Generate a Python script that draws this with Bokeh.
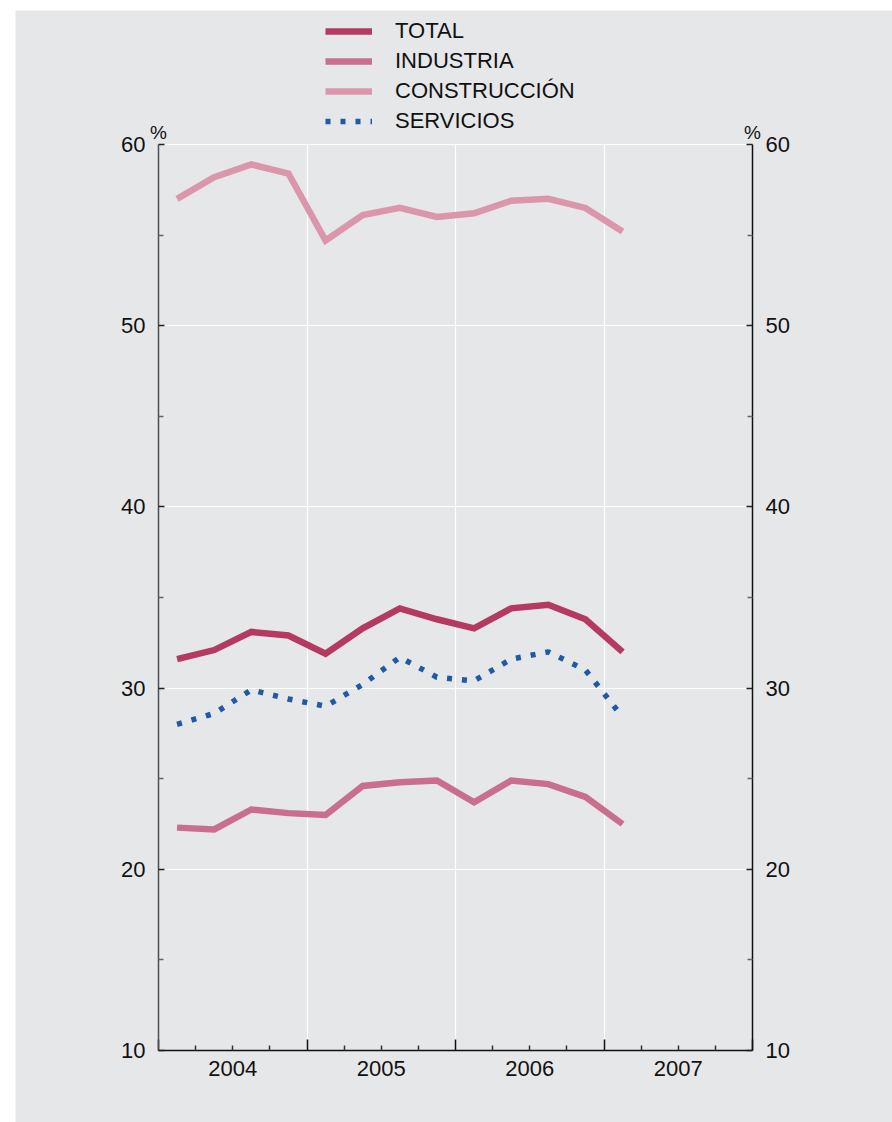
from bokeh.plotting import figure
from bokeh.models import (FixedTicker, LinearAxis, Range1d, Legend, LegendItem,
                          Label, CustomJSTickFormatter, Grid, Spacer)
from bokeh.layouts import column, row
from bokeh.embed import file_html
from bokeh.resources import INLINE

# ---------------- data ----------------
quarters = ["2004 I", "2004 II", "2004 III", "2004 IV",
            "2005 I", "2005 II", "2005 III", "2005 IV",
            "2006 I", "2006 II", "2006 III", "2006 IV",
            "2007 I"]
q_year = [2004, 2004, 2004, 2004, 2005, 2005, 2005, 2005, 2006, 2006, 2006, 2006, 2007]
q_num = [1, 2, 3, 4, 1, 2, 3, 4, 1, 2, 3, 4, 1]

total = [31.6, 32.1, 33.1, 32.9, 31.9, 33.3, 34.4, 33.8, 33.3, 34.4, 34.6, 33.8, 32.0]
industria = [22.3, 22.2, 23.3, 23.1, 23.0, 24.6, 24.8, 24.9, 23.7, 24.9, 24.7, 24.0, 22.5]
construccion = [57.0, 58.2, 58.9, 58.4, 54.7, 56.1, 56.5, 56.0, 56.2, 56.9, 57.0, 56.5, 55.2]
servicios = [28.0, 28.6, 29.9, 29.4, 29.0, 30.2, 31.7, 30.6, 30.4, 31.6, 32.0, 31.0, 28.4]

years = [2004, 2005, 2006, 2007]
y_major = [10, 20, 30, 40, 50, 60]
y_minor = [15, 25, 35, 45, 55]
series_labels = ["TOTAL", "INDUSTRIA", "CONSTRUCCIÓN", "SERVICIOS"]

# ---------------- styling / layout ----------------
BG = "#e6e7e9"
FONT = "Liberation Sans"
C_TOTAL = "#b53a61"
C_IND = "#c96e8c"
C_CON = "#dc96ac"
C_SER = "#1f5aa6"

PAD_L, PAD_T = 15, 10
FIG_W, FIG_H = 877, 1112
# chart box inside the figure (pixels from the figure's top-left)
BOX_L, BOX_R, BOX_T, BOX_B = 143, 737, 134, 1040

x0, x1 = years[0], years[-1] + 1
y0, y1 = y_major[0], y_major[-1]
ppx = (BOX_R - BOX_L) / (x1 - x0)
ppy = (BOX_B - BOX_T) / (y1 - y0)
x_range = Range1d(x0 - BOX_L / ppx, x1 + (FIG_W - BOX_R) / ppx)
y_range = Range1d(y0 - (FIG_H - BOX_B) / ppy, y1 + BOX_T / ppy)

x = [y + (q - 0.5) / 4.0 for y, q in zip(q_year, q_num)]

p = figure(width=FIG_W, height=FIG_H, x_range=x_range, y_range=y_range,
           x_axis_type=None, y_axis_type=None,
           output_backend="svg", toolbar_location=None, min_border=0,
           background_fill_color=BG, border_fill_color=BG, outline_line_color=None)

# grids (limited to the chart box)
p.add_layout(Grid(dimension=0, ticker=FixedTicker(ticks=years[1:]), cross_bounds=(y0, y1),
                  grid_line_color="white", grid_line_width=1.2))
p.add_layout(Grid(dimension=1, ticker=FixedTicker(ticks=y_major[1:]), cross_bounds=(x0, x1),
                  grid_line_color="white", grid_line_width=1.2))
# longer tick marks at the year boundaries
p.add_layout(Grid(dimension=0, ticker=FixedTicker(ticks=years + [x1]),
                  cross_bounds=(y0, y0 + 11 / ppy),
                  grid_line_color="#111111", grid_line_width=1.5))

# y axes
def y_axis(loc, line_color):
    return LinearAxis(ticker=FixedTicker(ticks=y_major, minor_ticks=y_minor),
                      fixed_location=loc, bounds=(y0, y1),
                      major_tick_in=6, major_tick_out=0, minor_tick_in=5, minor_tick_out=0,
                      axis_line_color=line_color, axis_line_width=1.5,
                      major_tick_line_color="#222222", major_tick_line_width=1.5,
                      minor_tick_line_color="#666666", minor_tick_line_width=1.5,
                      major_label_text_font=FONT, major_label_text_font_size="22px",
                      major_label_text_color="#111111", major_label_standoff=13)

p.add_layout(y_axis(x0, "#4d4d4d"), "left")
p.add_layout(y_axis(x1, "#111111"), "right")

# x axis: year labels centred in each year, quarter ticks
x_minor = [y + k / 4.0 for y in years for k in (1, 2, 3)]
xa = LinearAxis(ticker=FixedTicker(ticks=[y + 0.5 for y in years], minor_ticks=x_minor),
                fixed_location=y0, bounds=(x0, x1),
                formatter=CustomJSTickFormatter(code="return Math.floor(tick).toFixed(0)"),
                axis_line_color="#111111", axis_line_width=1.5,
                major_tick_line_color=None, major_tick_in=0, major_tick_out=0,
                minor_tick_line_color="#333333", minor_tick_line_width=1.5,
                minor_tick_in=5, minor_tick_out=0,
                major_label_text_font=FONT, major_label_text_font_size="22px",
                major_label_text_color="#111111", major_label_standoff=10)
p.add_layout(xa, "below")

# lines
r_con = p.line(x, construccion, line_color=C_CON, line_width=6.5, line_join="miter")
r_ind = p.line(x, industria, line_color=C_IND, line_width=6.5, line_join="miter")
r_tot = p.line(x, total, line_color=C_TOTAL, line_width=6.5, line_join="miter")
r_ser = p.line(x, servicios, line_color=C_SER, line_width=5.5, line_dash="5 10", line_cap="butt")

legend = Legend(items=[LegendItem(label=series_labels[0], renderers=[r_tot]),
                       LegendItem(label=series_labels[1], renderers=[r_ind]),
                       LegendItem(label=series_labels[2], renderers=[r_con]),
                       LegendItem(label=series_labels[3], renderers=[r_ser])],
                location=(310, FIG_H - 124), orientation="vertical",
                padding=0, margin=0, spacing=4,
                glyph_width=47, glyph_height=26, label_height=26, label_standoff=23,
                label_text_font=FONT, label_text_font_size="22px", label_text_color="#111111",
                border_line_color=None, background_fill_alpha=0)
p.add_layout(legend)

# "%" unit labels
for xv in (x0, x1):
    p.add_layout(Label(x=xv, y=y1, text="%", text_align="center",
                       text_baseline="alphabetic", y_offset=12,
                       text_font=FONT, text_font_size="19px", text_color="#111111"))

layout = column(Spacer(height=PAD_T), row(Spacer(width=PAD_L), p))
open("out.html", "w").write(file_html(layout, INLINE))
